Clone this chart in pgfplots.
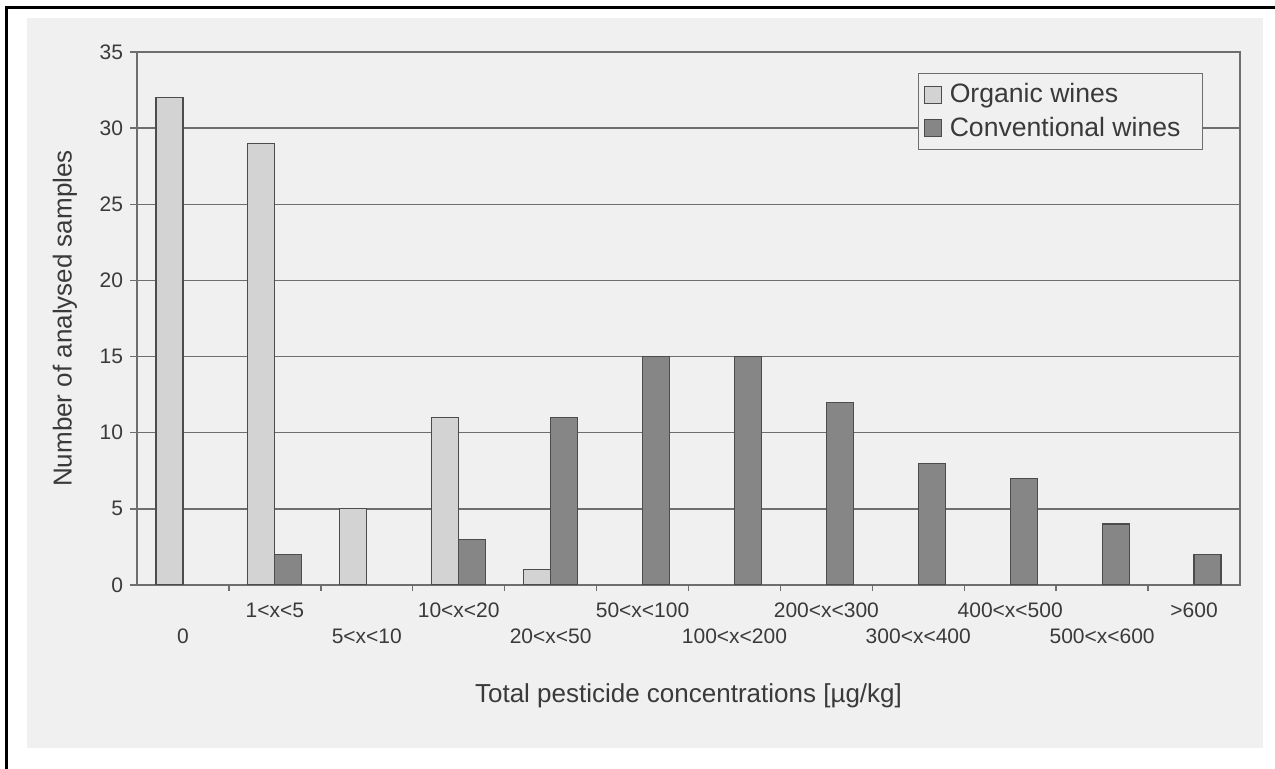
\documentclass[border=0pt]{standalone}
\usepackage{pgfplots}
\pgfplotsset{compat=1.18}
\usepackage{fontspec}
\setmainfont{Liberation Sans}

\definecolor{paper}{HTML}{F0F0F0}
\definecolor{ink}{HTML}{3A3A3A}
\definecolor{gridc}{HTML}{6E6E6E}
\definecolor{organic}{HTML}{D3D3D3}
\definecolor{conv}{HTML}{868686}
\definecolor{edge}{HTML}{4C4C4C}

\begin{document}
\begin{tikzpicture}
% page extent (1 px = 0.5pt, y measured downward)
\useasboundingbox (0,0) rectangle (637.5pt,-384.5pt);
% scanned page area and outer frame
\fill[paper] (13.5pt,-9pt) rectangle (631.5pt,-374pt);
\draw[line width=1.5pt] (3pt,-384.5pt) -- (3pt,-4pt) -- (637.5pt,-4pt);

\begin{axis}[
  at={(68.5pt,-292.5pt)}, anchor=south west,
  scale only axis, width=551.5pt, height=266.5pt,
  xmin=-0.5, xmax=11.5, ymin=0, ymax=35,
  ybar=0pt, bar width=13.5pt,
  axis line style={draw=gridc, line width=0.8pt},
  ytick={0,5,...,35},
  ymajorgrids, grid style={draw=gridc, line width=0.7pt},
  tick pos=left,
  tick align=outside, major tick length=3.5pt, minor tick length=3pt,
  tick style={draw=gridc, line width=0.7pt},
  xtick={0,...,11},
  major x tick style={draw=none},
  minor xtick={0.5,1.5,...,10.5},
  /pgf/number format/assume math mode=true,
  xticklabels={{\vphantom{0}\\0},{1<x<5},{\vphantom{0}\\5<x<10},{10<x<20},{\vphantom{0}\\20<x<50},{50<x<100},
               {\vphantom{0}\\100<x<200},{200<x<300},{\vphantom{0}\\300<x<400},{400<x<500},{\vphantom{0}\\500<x<600},{>600}},
  xticklabel style={align=center, anchor=north, yshift=-2pt,
    font=\fontsize{10.5}{13}\selectfont, text=ink},
  yticklabel style={font=\fontsize{10.5}{12}\selectfont, text=ink},
  xlabel={Total pesticide concentrations [µg/kg]},
  ylabel={Number of analysed samples},
  xlabel style={at={(axis description cs:0.5,-0.208)}, anchor=center,
    font=\fontsize{13}{15}\selectfont, text=ink},
  ylabel style={at={(axis description cs:-0.0653,0.5)}, anchor=center,
    font=\fontsize{13}{15}\selectfont, text=ink},
  legend style={at={(axis description cs:0.9665,0.9606)}, anchor=north east,
    draw=gridc, line width=0.6pt, fill=paper, font=\fontsize{13.3}{15}\selectfont,
    text=ink, inner xsep=3pt, inner ysep=3pt, row sep=1.5pt},
  legend cell align=left,
  legend image code/.code={%
    \path[draw=none, fill=none] (0pt,0pt) -- (10.5pt,0pt);
    \draw[#1, line width=0.6pt] (0pt,-4.25pt) rectangle (8.5pt,4.25pt);},
]
\addplot[fill=organic, draw=edge, line width=0.6pt]
  coordinates {(0,32) (1,29) (2,5) (3,11) (4,1)};
\addplot[fill=conv, draw=edge, line width=0.6pt]
  coordinates {(1,2) (3,3) (4,11) (5,15) (6,15) (7,12) (8,8) (9,7) (10,4) (11,2)};
\legend{Organic wines, Conventional wines\rule{6pt}{0pt}}
\end{axis}
\end{tikzpicture}
\end{document}
